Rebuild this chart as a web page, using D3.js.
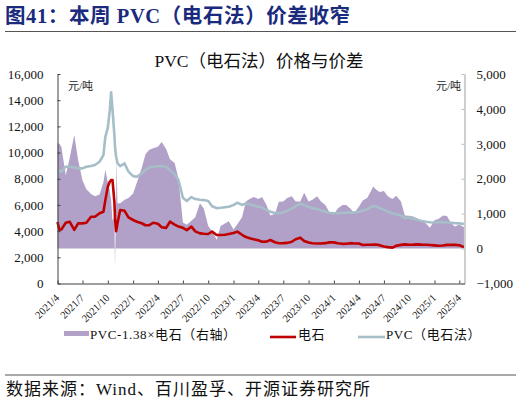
<!DOCTYPE html>
<html>
<head>
<meta charset="utf-8">
<script src="https://cdn.jsdelivr.net/npm/d3@7"></script>
<style>
  body { margin: 0; background: #fff; }
  svg text { font-family: "Liberation Serif", "Noto Sans CJK SC", serif; }
</style>
</head>
<body>
<div id="chart"></div>
<script>
// sampled roughly twice a month, extra points around the Oct 2021 spike
const dates = [
  "2021-04-01","2021-04-08","2021-04-15","2021-05-01","2021-05-15","2021-06-01","2021-06-15",
  "2021-07-01","2021-07-15","2021-08-01","2021-08-15","2021-09-01","2021-09-15","2021-09-22",
  "2021-10-01","2021-10-08","2021-10-13","2021-10-18","2021-10-25","2021-10-27","2021-10-31",
  "2021-11-02","2021-11-05","2021-11-15","2021-12-01","2021-12-15",
  "2022-01-01","2022-01-15","2022-02-01","2022-02-15","2022-03-01","2022-03-15","2022-04-01",
  "2022-04-15","2022-05-01","2022-05-15","2022-06-01","2022-06-15","2022-07-01","2022-07-15",
  "2022-08-01","2022-08-15","2022-09-01","2022-09-15","2022-10-01","2022-10-15","2022-11-01",
  "2022-11-15","2022-12-01","2022-12-15",
  "2023-01-01","2023-01-15","2023-02-01","2023-02-15","2023-03-01","2023-03-15","2023-04-01",
  "2023-04-15","2023-05-01","2023-05-15","2023-06-01","2023-06-15","2023-07-01","2023-07-15",
  "2023-08-01","2023-08-15","2023-09-01","2023-09-15","2023-10-01","2023-10-15","2023-11-01",
  "2023-11-15","2023-12-01","2023-12-15",
  "2024-01-01","2024-01-15","2024-02-01","2024-02-15","2024-03-01","2024-03-15","2024-04-01",
  "2024-04-15","2024-05-01","2024-05-15","2024-05-23","2024-06-01","2024-06-15","2024-07-01",
  "2024-07-15","2024-08-01","2024-08-15","2024-09-01","2024-09-15","2024-10-01","2024-10-15",
  "2024-11-01","2024-11-15","2024-12-01","2024-12-15",
  "2025-01-01","2025-01-15","2025-02-01","2025-02-15","2025-03-01","2025-03-15","2025-04-01",
  "2025-04-18"
];

// PVC (carbide process), yuan/t, left axis
const pvc = [
  8660,8600,8540,8920,8920,8870,8790,
  8790,8920,8970,9050,9300,9800,11200,
  11900,13200,14600,13300,11300,10500,9700,
  9500,9200,8970,9170,8540,
  8200,8150,8410,8660,8870,8920,8950,
  8970,8920,8660,8350,7900,6550,6300,
  6600,6450,6400,6370,6300,5900,5760,
  5780,5830,5860,
  5990,6170,6000,6120,6050,5950,5860,
  5800,5600,5480,5380,5360,5420,5550,
  5740,5900,6080,5990,5850,5740,5700,
  5600,5480,5400,
  5360,5360,5390,5410,5410,5420,5480,
  5580,5650,5850,5920,5900,5750,5650,
  5480,5360,5280,5200,4990,5050,4950,
  4850,4780,4720,4680,
  4660,4700,4690,4660,4640,4610,4590,
  4540
];

// calcium carbide, yuan/t, left axis
const carbide = [
  4700,4100,4130,4640,4720,4100,4590,
  4590,4640,5100,5100,5360,5480,6370,
  7390,7770,7900,7900,6200,5000,4000,
  4200,4600,5610,5550,5050,
  4850,4720,4600,4450,4460,4640,4560,
  4300,4250,4720,4500,4350,4250,4080,
  4340,3980,3830,3800,3780,3960,3700,
  3700,3720,3780,
  3850,3960,3720,3550,3450,3380,3300,
  3190,3200,3320,3150,3070,3080,3100,
  3190,3380,3500,3250,3130,3070,3050,
  3060,3080,3140,
  3140,3070,3030,3040,3080,3060,3050,
  2940,2960,2960,2970,2980,2930,2830,
  2780,2740,2880,2950,2990,2960,2970,
  2990,2970,2960,2940,
  2910,2880,2900,2950,2960,2950,2920,
  2780
];

// PVC - 1.38 x carbide, yuan/t, right axis
const spread = [
  3020,3000,2920,2100,2580,3250,2540,
  1950,1700,1560,1500,1550,1900,2250,
  1900,1650,1390,800,900,-560,1200,
  2600,1300,1300,1400,1450,
  1580,1900,2300,2700,2830,2870,2920,
  3050,2850,2560,2450,2000,750,680,
  800,900,1300,1150,650,500,250,
  650,720,780,
  550,700,900,1350,1420,1480,1420,
  1480,1250,950,1000,1340,1350,1450,
  1500,1350,1350,1600,1350,1400,1500,
  1350,1250,1050,
  980,1150,1250,1250,1150,1020,1200,
  1380,1450,1650,1780,1700,1620,1650,
  1500,1420,1510,1350,950,940,920,
  860,800,720,600,
  810,850,950,930,750,630,680,
  620
];

const leftTicks = d3.range(0, 16001, 2000);
const rightTicks = d3.range(-1000, 5001, 1000);

const width = 521, height = 404;
const plot = { left: 57.5, right: 464.5, top: 74, bottom: 283.5 };

const parse = d3.timeParse("%Y-%m-%d");
const rows = dates.map((d, i) => ({ date: parse(d), pvc: pvc[i], carbide: carbide[i], spread: spread[i] }));

const svg = d3.select("#chart").append("svg")
  .attr("width", width)
  .attr("height", height);

// header
svg.append("text")
  .attr("x", 5).attr("y", 23)
  .attr("fill", "#1a2a7c")
  .attr("font-size", 20.5)
  .attr("font-weight", "bold")
  .attr("letter-spacing", 0.6)
  .text("图41：本周 PVC（电石法）价差收窄");

svg.append("line")
  .attr("x1", 5).attr("x2", 516).attr("y1", 31.5).attr("y2", 31.5)
  .attr("stroke", "#555").attr("stroke-width", 1.2);

svg.append("text")
  .attr("x", 259).attr("y", 67)
  .attr("text-anchor", "middle")
  .attr("font-size", 17.5)
  .attr("fill", "#111")
  .text("PVC（电石法）价格与价差");

// scales
const x = d3.scaleTime()
  .domain([parse("2021-04-01"), parse("2025-04-20")])
  .range([plot.left, plot.right]);
const yL = d3.scaleLinear().domain([0, 16000]).range([plot.bottom, plot.top]);
const yR = d3.scaleLinear().domain([-1000, 5000]).range([plot.bottom, plot.top]);

// spread area on right axis
svg.append("path")
  .datum(rows)
  .attr("fill", "#b1a0c7")
  .attr("d", d3.area()
    .x(d => x(d.date))
    .y0(yR(0))
    .y1(d => yR(d.spread)));

svg.append("path")
  .datum(rows)
  .attr("fill", "none")
  .attr("stroke", "#a5bec8")
  .attr("stroke-width", 2.6)
  .attr("stroke-linejoin", "round")
  .attr("d", d3.line().x(d => x(d.date)).y(d => yL(d.pvc)));

svg.append("path")
  .datum(rows)
  .attr("fill", "none")
  .attr("stroke", "#c00000")
  .attr("stroke-width", 2.6)
  .attr("stroke-linejoin", "round")
  .attr("d", d3.line().x(d => x(d.date)).y(d => yL(d.carbide)));

// axes
const fmt = d3.format(",");

const gL = svg.append("g")
  .attr("transform", "translate(" + plot.left + ",0)")
  .call(d3.axisLeft(yL).tickValues(leftTicks).tickFormat(fmt).tickSizeInner(-3).tickSizeOuter(0).tickPadding(14));
gL.select(".domain").attr("stroke", "#404040");
gL.selectAll(".tick line").attr("stroke", "#404040");
gL.selectAll("text").attr("font-size", 13).attr("fill", "#111");

const gR = svg.append("g")
  .attr("transform", "translate(" + plot.right + ",0)")
  .call(d3.axisRight(yR).tickValues(rightTicks).tickFormat(fmt).tickSizeInner(-3).tickSizeOuter(0).tickPadding(12));
gR.select(".domain").attr("stroke", "#bfbfbf").attr("stroke-width", 1.5);
gR.selectAll(".tick line").attr("stroke", "#bfbfbf");
gR.selectAll("text").attr("font-size", 13).attr("fill", "#111");

const gX = svg.append("g")
  .attr("transform", "translate(0," + plot.bottom + ")")
  .call(d3.axisBottom(x).ticks(d3.timeMonth.every(3)).tickFormat(d3.timeFormat("%Y/%-m")).tickSizeInner(-3).tickSizeOuter(0));
gX.select(".domain").attr("stroke", "#404040");
gX.selectAll(".tick line").attr("stroke", "#404040");
gX.selectAll("text")
  .attr("font-size", 10.5)
  .attr("fill", "#111")
  .attr("y", 0).attr("dy", 0)
  .attr("text-anchor", "end")
  .attr("transform", "translate(2,15) rotate(-45)");

// unit labels
svg.append("text").attr("x", 68).attr("y", 90).attr("font-size", 11).attr("fill", "#222").text("元/吨");
svg.append("text").attr("x", 461).attr("y", 90).attr("font-size", 11).attr("fill", "#222")
  .attr("text-anchor", "end").text("元/吨");

// legend
const legend = svg.append("g").attr("font-size", 13).attr("letter-spacing", 0.6).attr("fill", "#111");
legend.append("rect").attr("x", 64).attr("y", 331).attr("width", 25).attr("height", 5).attr("fill", "#b1a0c7");
legend.append("text").attr("x", 90).attr("y", 339).text("PVC-1.38×电石（右轴）");
legend.append("line").attr("x1", 270).attr("x2", 296).attr("y1", 337).attr("y2", 337)
  .attr("stroke", "#c00000").attr("stroke-width", 2.6);
legend.append("text").attr("x", 298).attr("y", 339).text("电石");
legend.append("line").attr("x1", 358).attr("x2", 385).attr("y1", 337).attr("y2", 337)
  .attr("stroke", "#a5bec8").attr("stroke-width", 2.6);
legend.append("text").attr("x", 386).attr("y", 339).text("PVC（电石法）");

// footer
svg.append("line")
  .attr("x1", 5).attr("x2", 516).attr("y1", 375).attr("y2", 375)
  .attr("stroke", "#555").attr("stroke-width", 1.2);
svg.append("text")
  .attr("x", 6).attr("y", 395)
  .attr("font-size", 17)
  .attr("letter-spacing", 1)
  .attr("fill", "#111")
  .text("数据来源：Wind、百川盈孚、开源证券研究所");
</script>
</body>
</html>
